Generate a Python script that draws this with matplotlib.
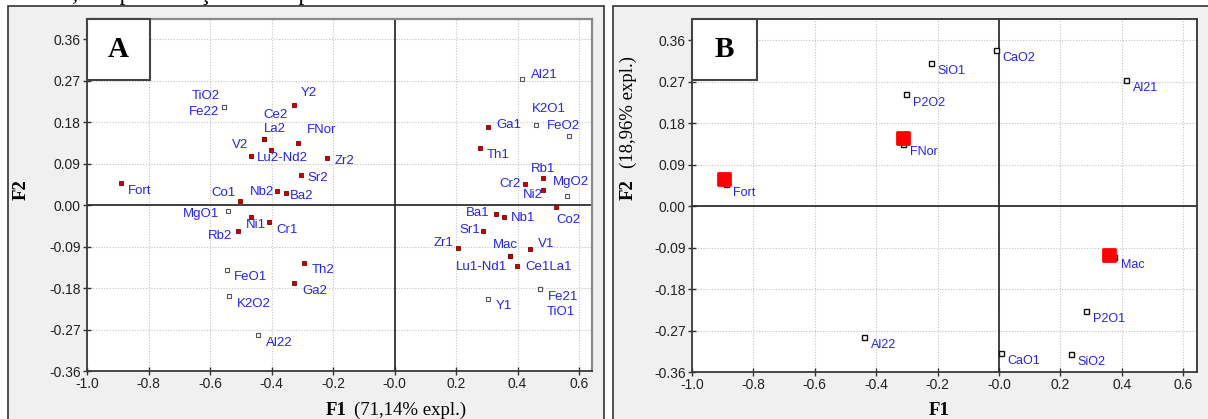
import numpy as np
import matplotlib
matplotlib.use('Agg')
import matplotlib.pyplot as plt
from matplotlib.patches import Rectangle
from matplotlib.markers import MarkerStyle
from matplotlib.ticker import FixedLocator, FuncFormatter

W, H = 1208, 419

# ---- panel A : active variables (red) and supplementary ones (open squares)
a_act_names = ['Fort', 'Y2', 'Ce2', 'La2', 'Lu2-Nd2', 'FNor', 'V2', 'Zr2', 'Sr2', 'Nb2',
               'Ba2', 'Co1', 'Ni1', 'Cr1', 'Rb2', 'Th2', 'Ga2', 'Ga1', 'Th1', 'Rb1',
               'Cr2', 'Ni2', 'Co2', 'Ba1', 'Nb1', 'Sr1', 'Zr1', 'V1', 'Mac', 'Lu1-Nd1', 'Ce1La1']
a_act_f1 = [-0.889, -0.327, -0.424, -0.424, -0.403, -0.313, -0.466, -0.2185, -0.305, -0.382,
            -0.353, -0.504, -0.466, -0.408, -0.509, -0.296, -0.327, 0.303, 0.277, 0.483,
            0.423, 0.483, 0.524, 0.329, 0.355, 0.287, 0.205, 0.441, 0.376, 0.376, 0.397]
a_act_f2 = [0.047, 0.2165, 0.1436, 0.1436, 0.120, 0.135, 0.107, 0.101, 0.065, 0.030,
            0.026, 0.008, -0.025, -0.037, -0.057, -0.125, -0.170, 0.169, 0.124, 0.059,
            0.0445, 0.033, -0.004, -0.020, -0.025, -0.057, -0.094, -0.096, -0.111, -0.111, -0.133]

a_sup_names = ['TiO2', 'Fe22', 'MgO1', 'FeO1', 'K2O2', 'Al22', 'Al21', 'K2O1', 'FeO2',
               'MgO2', 'Fe21', 'TiO1', 'Y1']
a_sup_f1 = [-0.554, -0.554, -0.5415, -0.546, -0.538, -0.443, 0.413, 0.460, 0.5675,
            0.562, 0.474, 0.474, 0.303]
a_sup_f2 = [0.213, 0.213, -0.014, -0.140, -0.198, -0.283, 0.273, 0.173, 0.150,
            0.019, -0.182, -0.182, -0.203]

# ---- panel B : variables (open squares), observations and highlighted observations
b_var_names = ['SiO1', 'CaO2', 'P2O2', 'Al21', 'Al22', 'CaO1', 'SiO2', 'P2O1']
b_var_f1 = [-0.222, -0.011, -0.304, 0.414, -0.441, 0.006, 0.2345, 0.283]
b_var_f2 = [0.310, 0.338, 0.242, 0.273, -0.284, -0.318, -0.321, -0.228]

b_obs_names = ['Fort', 'FNor', 'Mac']
b_obs_f1 = [-0.889, -0.313, 0.376]
b_obs_f2 = [0.047, 0.135, -0.111]
b_big_f1 = [-0.896, -0.3135, 0.360]
b_big_f2 = [0.058, 0.1475, -0.106]

x_ticks = [-1.0, -0.8, -0.6, -0.4, -0.2, 0.0, 0.2, 0.4, 0.6]
y_ticks = [-0.36, -0.27, -0.18, -0.09, 0.0, 0.09, 0.18, 0.27, 0.36]

# label placement in panel A (dx, dy in screen pixels, alignment)
a_lab = {'Fort': (7, 9, 'left'), 'Y2': (6.3, -10.7, 'left'), 'Ce2': (-0.7, -22, 'left'),
         'La2': (-0.4, -8.3, 'left'), 'Lu2-Nd2': (-13.6, 10, 'left'), 'FNor': (8.7, -11.3, 'left'),
         'V2': (-2.7, -9.3, 'right'), 'Zr2': (7.3, 3.7, 'left'), 'Sr2': (6.4, 4.6, 'left'),
         'Nb2': (-2.7, 2.6, 'right'), 'Ba2': (4.3, 4.6, 'left'), 'Co1': (-4, -7.4, 'right'),
         'Ni1': (-5.7, 9.7, 'left'), 'Cr1': (7.3, 9, 'left'), 'Rb2': (-5.4, 6, 'right'),
         'Th2': (8.7, 9, 'left'), 'Ga2': (8, 9.3, 'left'), 'Ga1': (8.7, -0.7, 'left'),
         'Th1': (7.4, 8.4, 'left'), 'Rb1': (-12, -8, 'left'), 'Cr2': (-4.3, 0.7, 'right'),
         'Ni2': (-20, 7, 'left'), 'Co2': (0.4, 14.4, 'left'), 'Ba1': (-6, 0, 'right'),
         'Nb1': (7.4, 2.3, 'left'), 'Sr1': (-3, 0.3, 'right'), 'Zr1': (-4, -4, 'right'),
         'V1': (7.6, -3.7, 'left'), 'Mac': (-17, -9.4, 'left'), 'Lu1-Nd1': (-54.7, 12.3, 'left'),
         'Ce1La1': (8.7, 2.3, 'left'), 'TiO2': (-4.7, -9.8, 'right'), 'Fe22': (-4.7, 6.7, 'right'),
         'MgO1': (-8.7, 3.7, 'right'), 'FeO1': (7, 8.7, 'left'), 'K2O2': (7.3, 9.3, 'left'),
         'Al22': (7.3, 9, 'left'), 'Al21': (9.7, -2.7, 'left'), 'K2O1': (-3.7, -14.7, 'left'),
         'FeO2': (-22.7, -8.7, 'left'), 'MgO2': (-14.3, -13.4, 'left'), 'Fe21': (7.7, 9.4, 'left'),
         'TiO1': (6.7, 24, 'left'), 'Y1': (7.7, 8.7, 'left')}

SANS = 'Liberation Sans'
SERIF = 'Liberation Serif'
BLUE = '#2424f0'


def fx(x):
	return x / W


def fy(y):
	return 1 - y / H


def setupAxes(ax, xmax, ymax, light_tr):
	ax.set_xlim(-1.0, xmax)
	ax.set_ylim(-0.36, ymax)
	ax.xaxis.set_major_locator(FixedLocator(x_ticks))
	ax.yaxis.set_major_locator(FixedLocator(y_ticks))
	ax.xaxis.set_major_formatter(FuncFormatter(lambda v, p: '-0.0' if abs(v) < 1e-9 else '%.1f' % v))
	ax.yaxis.set_major_formatter(FuncFormatter(lambda v, p: '0.00' if abs(v) < 1e-9 else '%.2f' % v))
	ax.grid(True, color='#c4c4c4', linestyle=(0, (1, 1.5)), linewidth=0.8)
	ax.set_axisbelow(True)
	ax.axhline(0, color='#222222', lw=1.2, zorder=1.5)
	ax.axvline(0, color='#222222', lw=1.2, zorder=1.5)
	ax.tick_params(direction='inout', length=6, width=1, color='#333333',
				   labelsize=10, labelcolor='#222222', pad=1.5)
	for lab in ax.get_xticklabels() + ax.get_yticklabels():
		lab.set_fontfamily(SANS)
	for s in ['left', 'bottom']:
		ax.spines[s].set_color('#3a3a3a')
		ax.spines[s].set_linewidth(1.3)
	for s in ['top', 'right']:
		ax.spines[s].set_color('#8a8a8a' if light_tr else '#333333')
		ax.spines[s].set_linewidth(1.6 if light_tr else 1.3)


def letterBox(ax, letter, wpx, hpx, axw, axh):
	ax.add_patch(Rectangle((0, 1 - hpx / axh), wpx / axw, hpx / axh, transform=ax.transAxes,
						   facecolor='white', edgecolor='#444444', lw=1.5, zorder=5, clip_on=False))
	ax.text(wpx / axw / 2, 1 - hpx / axh / 2, letter, transform=ax.transAxes, ha='center', va='center',
			fontsize=21, fontweight='bold', family=SERIF, zorder=6)


fig = plt.figure(figsize=(W / 100, H / 100), dpi=100)
fig.patch.set_facecolor('white')

# grey panel frames
fig.patches.append(Rectangle((fx(8), fy(440)), fx(596), 434 / H, transform=fig.transFigure,
							 facecolor='#f0f0f0', edgecolor='#333333', lw=1.2, zorder=-5))
fig.patches.append(Rectangle((fx(613), fy(440)), fx(620), 434 / H, transform=fig.transFigure,
							 facecolor='#f0f0f0', edgecolor='#333333', lw=1.2, zorder=-5))

# cut text of the page above the figure
fig.text(fx(43), 1.0, 'em, a representação das suplementares', fontsize=17.3, family=SERIF,
		 va='baseline', ha='left')

# ---------------- panel A
axA = fig.add_axes([fx(87), fy(371), fx(505), 352 / H])
setupAxes(axA, 0.642, 0.4034, True)
axA.plot(a_sup_f1, a_sup_f2, 's', ms=3.4, mfc='white', mec='#555555', mew=0.8, zorder=3)
axA.plot(a_act_f1, a_act_f2, 's', ms=3.2, mfc='#cc0000', mec='#7a0000', mew=0.6, zorder=3)
for names, xs, ys in [(a_act_names, a_act_f1, a_act_f2), (a_sup_names, a_sup_f1, a_sup_f2)]:
	for n, x, y in zip(names, xs, ys):
		dx, dy, ha = a_lab[n]
		axA.annotate(n, (x, y), xytext=(dx, -dy + 1.3), textcoords='offset pixels',
					 ha=ha, va='center', fontsize=9.5, color=BLUE, family=SANS, zorder=4)
letterBox(axA, 'A', 63, 61, 505, 352)

fig.text(fx(326), fy(410.7), 'F1', fontsize=13.5, fontweight='bold', family=SERIF, ha='left', va='center')
fig.text(fx(354), fy(410.7), '(71,14% expl.)', fontsize=13.5, family=SERIF, ha='left', va='center')
fig.text(fx(21.7), fy(190), 'F2', fontsize=13.5, fontweight='bold', family=SERIF,
		 ha='center', va='center', rotation=90)

# ---------------- panel B
axB = fig.add_axes([fx(692), fy(372), fx(505), 353 / H])
setupAxes(axB, 0.6456, 0.4056, False)
axB.plot(b_obs_f1, b_obs_f2, 's', ms=3.6, mfc='white', mec='#111111', mew=1.0, zorder=3)
axB.plot(b_var_f1, b_var_f2, 's', ms=3.6, mfc='white', mec='#111111', mew=1.0, zorder=3)
big = MarkerStyle('s', joinstyle='round')
axB.plot(b_big_f1, b_big_f2, linestyle='none', marker=big, ms=8.6, mfc='#ff0000', mec='#ff0000',
		 mew=2, zorder=4)
for names, xs, ys in [(b_var_names, b_var_f1, b_var_f2), (b_obs_names, b_obs_f1, b_obs_f2)]:
	for n, x, y in zip(names, xs, ys):
		axB.annotate(n, (x, y), xytext=(7, -9.5 + 1.3), textcoords='offset pixels',
					 ha='left', va='center', fontsize=9, color=BLUE, family=SANS, zorder=5)
letterBox(axB, 'B', 64.7, 61, 505, 353)

fig.text(fx(939), fy(410.7), 'F1', fontsize=13.5, fontweight='bold', family=SERIF, ha='center', va='center')
fig.text(fx(628.3), fy(190), 'F2', fontsize=13.5, fontweight='bold', family=SERIF,
		 ha='center', va='center', rotation=90)
fig.text(fx(628.3), fy(112.5), '(18,96% expl.)', fontsize=13.5, family=SERIF,
		 ha='center', va='center', rotation=90)

fig.savefig('out.png', dpi=100)
